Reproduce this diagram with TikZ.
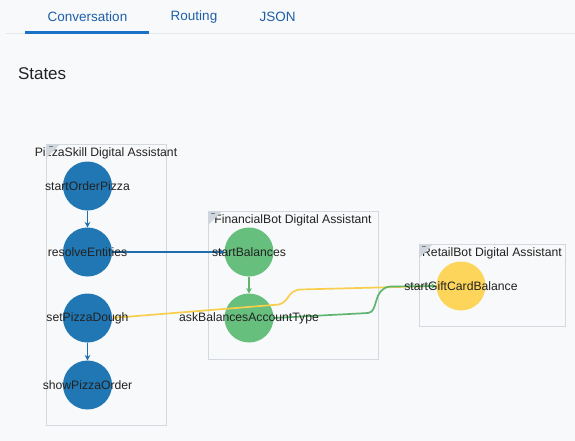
\documentclass[tikz,border=0pt]{standalone}
\usepackage{fontspec}
\setmainfont{Liberation Sans}
\usetikzlibrary{arrows.meta,positioning}

\definecolor{pagebg}{HTML}{F8F9FA}
\definecolor{tabblue}{HTML}{1D5FA9}
\definecolor{tabline}{HTML}{1B72C8}
\definecolor{rule}{HTML}{E2E7EC}
\definecolor{groupline}{HTML}{D3D9DF}
\definecolor{fold}{HTML}{CFD6DD}
\definecolor{labeltext}{HTML}{222222}
\definecolor{pizzablue}{HTML}{2077B4}
\definecolor{finagreen}{HTML}{67BF7E}
\definecolor{retailyellow}{HTML}{FCD55A}
\definecolor{bluelink}{HTML}{1F6FAE}
\definecolor{greenlink}{HTML}{5DB570}
\definecolor{yellowlink}{HTML}{F8CF4C}

\begin{document}
\begin{tikzpicture}[
  x=1pt,y=-1pt,
  every node/.style={
    inner sep=0pt,
    outer sep=0pt,
  },
  tab/.style={font=\fontsize{13.5}{16}\selectfont,text=tabblue},
  group/.style={draw=groupline,line width=0.9pt,anchor=north west},
  grouptitle/.style={font=\fontsize{12.2}{14}\selectfont,text=labeltext},
  state/.style={circle,minimum size=49pt},
  statelabel/.style={font=\fontsize{12.2}{14}\selectfont,text=labeltext},
  link/.style={line width=1.7pt,-{Stealth[length=5.5pt,width=5.5pt]}},
]
\useasboundingbox[fill=pagebg] (0,0) rectangle (575,441);

\node[tab] at (87.5,17) (conversation) {Conversation};
\node[tab] at (194,17) (routing) {Routing};
\node[tab] at (277.5,17) (json) {JSON};
\fill[rule] (6,32.6) rectangle (575,34.2);
\fill[tabline] (25,31.4) rectangle (149,34.2);

\node[font=\fontsize{17}{20}\selectfont,text=labeltext,anchor=west] at (18,74) (states) {States};

\node[group,minimum width=120pt,minimum height=281pt] at (46,144) (pizzaskill) {};
\node[group,minimum width=170pt,minimum height=148pt] at (208,211) (financialbot) {};
\node[group,minimum width=146pt,minimum height=82pt] at (419,244) (retailbot) {};

\node[grouptitle] at ([yshift=-9pt]pizzaskill.north) (pizzatitle) {PizzaSkill Digital Assistant};
\node[grouptitle] at ([yshift=-9pt]financialbot.north) (financetitle) {FinancialBot Digital Assistant};
\node[grouptitle] at ([yshift=-9pt]retailbot.north) (retailtitle) {RetailBot Digital Assistant};

\foreach \g in {pizzaskill,financialbot,retailbot}{
  \fill[fold] (\g.north west) -- ++(14,0) -- ++(-14,14) -- cycle;
  \draw[labeltext!60,line width=0.8pt] ([xshift=2.5pt,yshift=-2.8pt]\g.north west) -- ++(4.5,0);
}

\node[state,fill=pizzablue] at (87.5,186) (startorderpizza) {};
\node[state,fill=pizzablue] at (87.5,252) (resolveentities) {};
\node[state,fill=pizzablue] at (87.5,318) (setpizzadough) {};
\node[state,fill=pizzablue] at (87.5,385) (showpizzaorder) {};
\node[state,fill=finagreen] at (249,252) (startbalances) {};
\node[state,fill=finagreen] at (249,318) (askbalances) {};
\node[state,fill=retailyellow] at (461,286) (startgiftcard) {};

\path[draw,link,bluelink] (startorderpizza) -- (resolveentities);
\path[draw,link,bluelink] (setpizzadough) -- (showpizzaorder);
\path[draw,link,bluelink] (resolveentities) -- (startbalances);
\path[draw,link,greenlink] (startbalances) -- (askbalances);
\path[draw,link,yellowlink] (startgiftcard.west) -- (300,289.5) .. controls (287,291) and (290,301) .. (279,304.5) -- (setpizzadough.east);
\path[draw,link,greenlink] (askbalances.east) -- (368,313) .. controls (379,312) and (372,289) .. (390,286.5) -- (startgiftcard.west);

\node[statelabel] at (startorderpizza) (startorderpizzalabel) {startOrderPizza};
\node[statelabel] at (resolveentities) (resolveentitieslabel) {resolveEntities};
\node[statelabel] at (setpizzadough) (setpizzadoughlabel) {setPizzaDough};
\node[statelabel] at (showpizzaorder) (showpizzaorderlabel) {showPizzaOrder};
\node[statelabel] at (startbalances) (startbalanceslabel) {startBalances};
\node[statelabel] at (askbalances) (askbalanceslabel) {askBalancesAccountType};
\node[statelabel] at (startgiftcard) (startgiftcardlabel) {startGiftCardBalance};
\end{tikzpicture}
\end{document}
